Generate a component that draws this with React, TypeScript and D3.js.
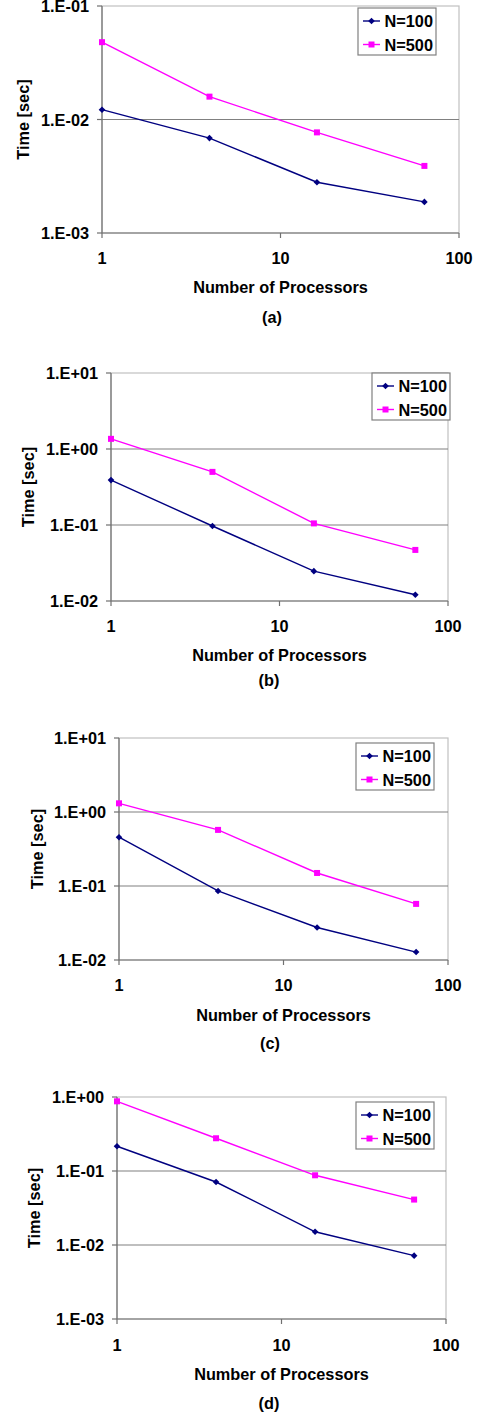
import React from "react";
import * as d3 from "d3";

// x values shared by all four panels
const processors = [1, 4, 16, 64];
const xTicks = [1, 10, 100];
const seriesNames = ["N=100", "N=500"];
const seriesColors = ["#000080", "#FF00FF"];

// times, seconds
const timesA100 = [0.0122, 0.00686, 0.0028, 0.00188];
const timesA500 = [0.048, 0.0159, 0.0077, 0.0039];
const timesB100 = [0.39, 0.097, 0.0247, 0.0121];
const timesB500 = [1.36, 0.5, 0.105, 0.047];
const timesC100 = [0.456, 0.0857, 0.0275, 0.0128];
const timesC500 = [1.31, 0.573, 0.15, 0.0573];
const timesD100 = [0.216, 0.071, 0.0151, 0.00718];
const timesD500 = [0.874, 0.277, 0.0875, 0.0411];

const yTicksA = [1e-3, 1e-2, 1e-1];
const yTicksB = [1e-2, 1e-1, 1, 10];
const yTicksD = [1e-3, 1e-2, 1e-1, 1];

const panels = [
  { caption: "(a)", series: [timesA100, timesA500], yTicks: yTicksA, left: 102, right: 459, top: 6, bottom: 233, xLabY: 258, titleY: 287, capY: 317, capX: 272, yTitleX: 23, legX: 358, legY: 8 },
  { caption: "(b)", series: [timesB100, timesB500], yTicks: yTicksB, left: 111, right: 448, top: 373, bottom: 601, xLabY: 626, titleY: 655, capY: 680, capX: 269, yTitleX: 28, legX: 372, legY: 373 },
  { caption: "(c)", series: [timesC100, timesC500], yTicks: yTicksB, left: 119, right: 448, top: 738, bottom: 960, xLabY: 985, titleY: 1015, capY: 1043, capX: 270, yTitleX: 37, legX: 356, legY: 743 },
  { caption: "(d)", series: [timesD100, timesD500], yTicks: yTicksD, left: 117, right: 446, top: 1097, bottom: 1319, xLabY: 1345, titleY: 1374, capY: 1403, capX: 269, yTitleX: 34, legX: 356, legY: 1102 },
];

const font = "'Liberation Sans', Arial, sans-serif";

function fmtExp(v) {
  const e = Math.round(Math.log10(v));
  const sign = e < 0 ? "-" : "+";
  return `1.E${sign}${String(Math.abs(e)).padStart(2, "0")}`;
}

function Marker({ kind, x, y, color }) {
  if (kind === 0) {
    const r = 3.3;
    return <path d={`M${x},${y - r}L${x + r},${y}L${x},${y + r}L${x - r},${y}Z`} fill={color} />;
  }
  return <rect x={x - 3} y={y - 3} width={6} height={6} fill={color} />;
}

function Panel({ p }) {
  const x = d3.scaleLog().domain([1, 100]).range([p.left, p.right]);
  const y = d3.scaleLog().domain(d3.extent(p.yTicks)).range([p.bottom, p.top]);
  const line = d3.line().x((d) => x(d[0])).y((d) => y(d[1]));
  const midY = (p.top + p.bottom) / 2;
  const midX = (p.left + p.right) / 2;

  return (
    <g fontFamily={font} fontWeight="bold" fontSize={16.3} fill="#000">
      <rect x={p.left} y={p.top} width={p.right - p.left} height={p.bottom - p.top} fill="#fff" stroke="#c0c0c0" strokeWidth={1.2} />
      {p.yTicks.slice(1, -1).map((t) => (
        <line key={t} x1={p.left} x2={p.right} y1={y(t)} y2={y(t)} stroke="#808080" strokeWidth={1.2} />
      ))}
      <line x1={p.left} x2={p.left} y1={p.top} y2={p.bottom} stroke="#707070" strokeWidth={1.2} />
      <line x1={p.left} x2={p.right} y1={p.bottom} y2={p.bottom} stroke="#707070" strokeWidth={1.2} />
      {p.yTicks.map((t) => (
        <g key={t}>
          <line x1={p.left - 5} x2={p.left} y1={y(t)} y2={y(t)} stroke="#707070" strokeWidth={1.2} />
          <text x={p.left - 13} y={y(t) + 6} textAnchor="end">{fmtExp(t)}</text>
        </g>
      ))}
      {xTicks.map((t) => (
        <g key={t}>
          <line x1={x(t)} x2={x(t)} y1={p.bottom} y2={p.bottom + 5} stroke="#707070" strokeWidth={1.2} />
          <text x={x(t)} y={p.xLabY + 6} textAnchor="middle">{t}</text>
        </g>
      ))}
      {p.series.map((vals, si) => {
        const pts = processors.map((pr, i) => [pr, vals[i]]);
        return (
          <g key={si}>
            <path d={line(pts)} fill="none" stroke={seriesColors[si]} strokeWidth={1.4} />
            {pts.map((d, i) => (
              <Marker key={i} kind={si} x={x(d[0])} y={y(d[1])} color={seriesColors[si]} />
            ))}
          </g>
        );
      })}
      <text transform={`translate(${p.yTitleX + 6},${midY}) rotate(-90)`} textAnchor="middle">Time [sec]</text>
      <text x={midX} y={p.titleY + 6} textAnchor="middle">Number of Processors</text>
      <text x={p.capX} y={p.capY + 6} textAnchor="middle">{p.caption}</text>
      <g>
        <rect x={p.legX} y={p.legY} width={78} height={47} fill="#fff" stroke="#808080" strokeWidth={1.2} />
        {seriesNames.map((name, si) => {
          const cy = p.legY + 13 + si * 23.5;
          return (
            <g key={name}>
              <line x1={p.legX + 5} x2={p.legX + 22} y1={cy} y2={cy} stroke={seriesColors[si]} strokeWidth={1.4} />
              <Marker kind={si} x={p.legX + 13.5} y={cy} color={seriesColors[si]} />
              <text x={p.legX + 26.5} y={cy + 6}>{name}</text>
            </g>
          );
        })}
      </g>
    </g>
  );
}

export default function App() {
  return (
    <svg width={478} height={1416} style={{ position: "absolute", left: 0, top: 0, background: "#fff" }}>
      <rect width={478} height={1416} fill="#fff" />
      {panels.map((p) => (
        <Panel key={p.caption} p={p} />
      ))}
    </svg>
  );
}
